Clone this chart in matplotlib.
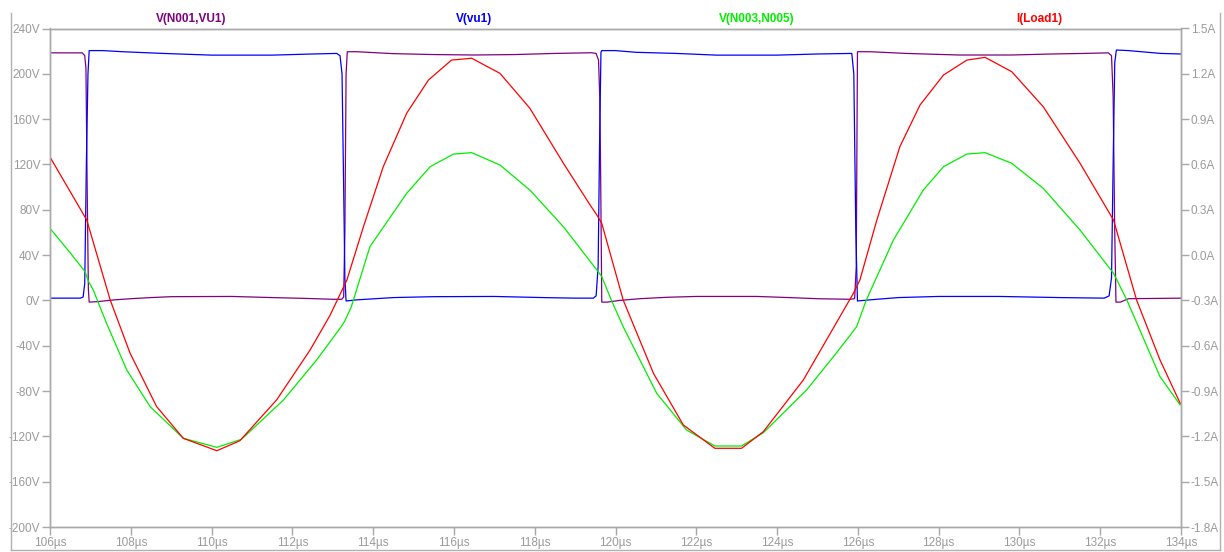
import matplotlib
matplotlib.use("Agg")
import matplotlib.pyplot as plt
from matplotlib.lines import Line2D
from matplotlib.ticker import FuncFormatter, MultipleLocator

plt.rcParams["font.family"] = ["Liberation Sans", "DejaVu Sans"]

# --- trace data (time in us) ---
# V(N001,VU1)  (left axis, V)
t_n001 = [106.0, 106.80, 106.86, 106.89, 106.92, 106.95, 106.97,
          107.2, 107.6, 108.0, 108.5, 109.0, 110.5, 111.5, 112.3, 113.0, 113.22,
          113.27, 113.30, 113.33, 113.36,
          113.6, 114.5, 115.5, 116.5, 117.5, 118.5, 119.4, 119.52,
          119.58, 119.61, 119.63, 119.66,
          119.8, 120.1, 120.6, 121.3, 122.0, 123.5, 124.3, 125.0, 125.8, 125.92,
          125.96, 125.99,
          126.3, 127.2, 128.5, 129.8, 130.8, 131.6, 132.2, 132.28,
          132.32, 132.36, 132.39,
          132.5, 132.7, 134.0]
v_n001 = [218.5, 218.5, 216.0, 205.0, 100.0, 10.0, -1.5,
          -1.0, 0.5, 1.5, 2.5, 3.3, 3.5, 2.5, 1.8, 1.0, 1.0,
          3.0, 60.0, 200.0, 219.5,
          219.5, 217.8, 217.0, 216.6, 217.0, 218.0, 218.6, 218.0,
          212.0, 180.0, 120.0, -1.5,
          -1.5, 0.0, 1.5, 2.8, 3.5, 3.5, 2.5, 1.5, 1.0, 1.5,
          30.0, 219.5,
          219.5, 218.0, 216.6, 216.6, 217.5, 218.0, 218.5, 216.0,
          180.0, 60.0, -1.5,
          -1.5, 1.5, 2.0]

# V(vu1)  (left axis, V)
t_vu1 = [106.0, 106.3, 106.75, 106.82, 106.86, 106.90, 106.94, 106.97,
         107.3, 107.8, 108.8, 110.0, 111.5, 112.5, 113.1, 113.18,
         113.23, 113.27, 113.30, 113.33,
         113.6, 114.5, 115.5, 117.0, 118.2, 119.0, 119.45, 119.52,
         119.57, 119.61, 119.64, 119.66,
         120.0, 120.5, 121.5, 122.5, 124.0, 125.0, 125.85,
         125.90, 125.95, 125.99,
         126.3, 127.0, 128.0, 129.5, 131.0, 132.1, 132.22,
         132.28, 132.32, 132.36, 132.40,
         132.7, 133.5, 134.0]
v_vu1 = [2.0, 2.0, 2.0, 3.0, 15.0, 120.0, 200.0, 220.5,
         220.5, 219.5, 218.0, 216.5, 216.5, 217.5, 218.0, 216.0,
         200.0, 100.0, 20.0, -0.5,
         0.5, 2.5, 3.3, 3.5, 2.5, 2.0, 2.0, 4.0,
         30.0, 150.0, 219.0, 220.5,
         220.5, 219.0, 218.0, 216.5, 216.5, 217.5, 218.0,
         200.0, 60.0, -0.5,
         0.5, 2.5, 3.5, 3.5, 2.5, 2.0, 4.0,
         20.0, 120.0, 210.0, 221.0,
         220.5, 218.0, 217.5]

# V(N003,N005)  (left axis, V)
t_n003 = [106.0, 106.5, 106.87, 106.95, 107.07, 107.4, 107.9, 108.48, 109.3,
          110.13, 110.74, 111.78, 112.6, 113.21, 113.3, 113.46, 113.92, 114.83,
          115.41, 115.99, 116.44, 117.14, 117.88, 118.71, 119.54, 119.66,
          119.9, 120.19, 121.02, 121.76, 122.46, 123.12, 123.66, 124.73,
          125.5, 125.97, 126.21, 126.88, 127.62, 128.12, 128.7, 129.15,
          129.81, 130.59, 131.5, 132.33, 132.66, 133.48, 133.98]
v_n003 = [63.6, 42.0, 25.3, 17.0, 9.2, -20.2, -61.4, -93.8, -121.7,
          -129.7, -122.6, -87.9, -52.6, -23.2, -18.0, -5.6, 47.4, 94.5,
          118.0, 129.2, 130.4, 119.5, 97.4, 65.0, 26.8, 21.0,
          0.0, -23.2, -82.0, -114.4, -128.5, -128.5, -116.8, -79.1,
          -45.0, -23.2, 0.35, 53.3, 97.4, 118.0, 129.2, 130.4,
          121.0, 98.9, 62.1, 23.9, 0.35, -67.3, -92.3]

# I(Load1)  (right axis, A)
t_load = [106.0, 106.62, 106.91, 107.49, 107.98, 108.64, 109.3, 110.13,
          110.7, 111.61, 112.44, 112.93, 113.35, 113.76, 114.25, 114.83,
          115.37, 115.94, 116.44, 117.14, 117.88, 118.71, 119.37, 119.54,
          119.66, 120.19, 120.94, 121.68, 122.46, 123.12, 123.66, 124.65,
          125.89, 126.05, 126.47, 127.04, 127.54, 128.12, 128.7, 129.15,
          129.81, 130.59, 131.5, 132.33, 132.9, 133.48, 133.98]
i_load = [0.649, 0.365, 0.232, -0.297, -0.648, -1.003, -1.213, -1.295,
          -1.229, -0.959, -0.628, -0.40, -0.165, 0.188, 0.585, 0.939,
          1.159, 1.291, 1.303, 1.203, 0.972, 0.608, 0.332, 0.265,
          0.21, -0.297, -0.783, -1.125, -1.279, -1.279, -1.169, -0.827,
          -0.253, -0.165, 0.232, 0.718, 0.994, 1.192, 1.291, 1.309,
          1.214, 0.982, 0.608, 0.232, -0.297, -0.694, -0.981]

TRACES = ["V(N001,VU1)", "V(vu1)", "V(N003,N005)", "I(Load1)"]
COLORS = ["#800080", "#0000ff", "#00ee00", "#ff0000"]

GRID = "#a8a8a8"
TXT = "#9a9a9a"

fig = plt.figure(figsize=(12.24, 5.52), dpi=100)
ax = fig.add_axes([50 / 1224, 1 - 527 / 552, 1131 / 1224, 498.5 / 552])
ax2 = ax.twinx()

lw = 0.9
ax.plot(t_n001, v_n001, color=COLORS[0], lw=lw)
ax.plot(t_vu1, v_vu1, color=COLORS[1], lw=lw)
ax.plot(t_n003, v_n003, color=COLORS[2], lw=lw)
ax2.plot(t_load, i_load, color=COLORS[3], lw=lw)

ax.set_xlim(106, 134)
ax.set_ylim(-200, 240)
ax2.set_ylim(-1.8, 1.5)

ax.xaxis.set_major_locator(MultipleLocator(2))
ax.yaxis.set_major_locator(MultipleLocator(40))
ax2.yaxis.set_major_locator(MultipleLocator(0.3))
ax.xaxis.set_major_formatter(FuncFormatter(lambda v, p: f"{v:.0f}\u00b5s"))
ax.yaxis.set_major_formatter(FuncFormatter(lambda v, p: f"{v:.0f}V"))
ax2.yaxis.set_major_formatter(FuncFormatter(lambda v, p: f"{v + 0.0:.1f}A"))

for a in (ax, ax2):
    for s in a.spines.values():
        s.set_color(GRID)
        s.set_linewidth(1.0)
ax.tick_params(axis="both", colors=GRID, labelcolor=TXT, labelsize=8.5,
               length=5.5, width=1.0, pad=1.5)
ax2.tick_params(axis="y", colors=GRID, labelcolor=TXT, labelsize=8.5,
                length=5.5, width=1.0, pad=1.5)

# trace names across the top, like the LTspice header
for i, (name, c) in enumerate(zip(TRACES, COLORS)):
    ax.text((i + 0.5) / 4, 1.019, name, transform=ax.transAxes, color=c,
            ha="center", va="center", fontsize=8.5, fontweight="bold")

# outer window border (left, bottom, right)
for xs, ys in [([10.5, 10.5], [13, 550]), ([10.5, 1220], [550, 550]),
               ([1220, 1220], [13, 550])]:
    fig.add_artist(Line2D([x / 1224 for x in xs], [1 - y / 552 for y in ys],
                          color="#b0b0b0", lw=1.0))

fig.savefig("out.png", dpi=100)
